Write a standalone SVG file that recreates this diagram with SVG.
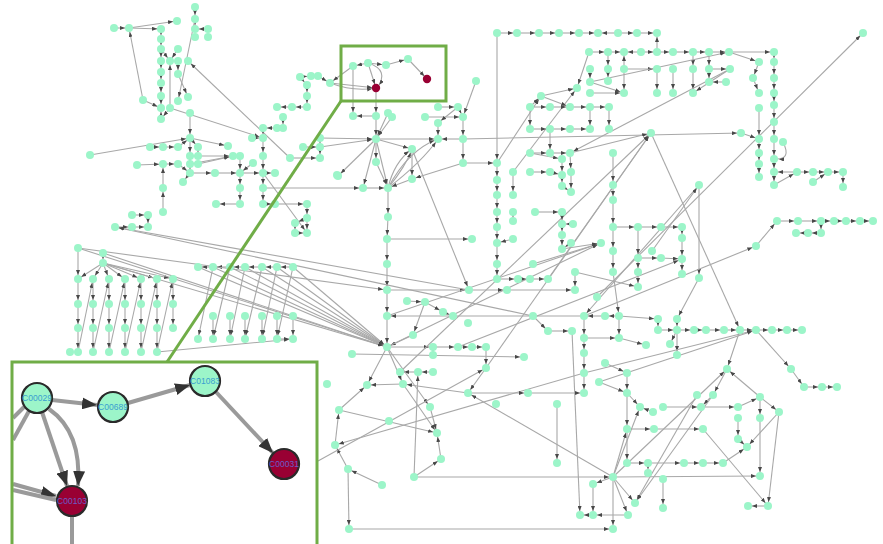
<svg xmlns="http://www.w3.org/2000/svg" width="883" height="544" viewBox="0 0 883 544">
<style>
.e path{stroke:#a8a8a8;stroke-width:1.1;fill:none;marker-end:url(#a)}
.nd circle{fill:#9cf5c9}
#nodes circle{r:4px}
.rd circle{fill:#990033}
.ie path{stroke:#9a9a9a;stroke-width:4;fill:none}
.ie .ar{marker-end:url(#b)}
.big circle{stroke:#2a2a2a;stroke-width:2.2}
.lbl{font-family:"Liberation Sans",Arial,sans-serif;font-size:8.5px;text-anchor:middle;dominant-baseline:central}
.frame{fill:none;stroke:#70ad47;stroke-width:3}
</style>
<defs>
<marker id="a" viewBox="0 0 10 8" refX="18" refY="4" markerWidth="5" markerHeight="4" orient="auto" markerUnits="userSpaceOnUse"><path d="M0 0L10 4L0 8z" fill="#484848"/></marker>
<marker id="b" viewBox="0 0 10 8" refX="10" refY="4" markerWidth="15" markerHeight="12" orient="auto" markerUnits="userSpaceOnUse"><path d="M0 0L10 4L0 8z" fill="#333"/></marker>
</defs>
<rect width="883" height="544" fill="#fff"/>
<g id="connectors" class="e">
<path d="M114 28L129 28"/><path d="M129 28L161 29"/><path d="M129 28L177 21"/><path d="M143 100L129 28"/><path d="M143 100L161 108"/>
<path d="M161 29L161 39"/><path d="M161 39L161 49"/><path d="M161 49L161 61"/><path d="M161 61L161 72"/><path d="M161 72L161 83"/><path d="M161 83L161 96"/><path d="M161 96L161 108"/><path d="M161 119L161 108"/><path d="M170 108L161 119"/>
<path d="M170 108L170 61"/><path d="M178 49L170 61"/><path d="M161 49L170 61"/><path d="M178 61L178 74"/><path d="M195 7L195 19"/><path d="M195 19L195 29"/><path d="M208 29L195 29"/><path d="M195 19L178 101"/><path d="M178 74L188 97"/><path d="M290 158L188 61"/><path d="M170 108L263 138"/><path d="M190 113L190 138"/>
<path d="M90 155L190 138"/><path d="M150 147L163 147"/><path d="M163 147L178 147"/><path d="M178 147L190 138"/><path d="M190 138L198 147"/><path d="M190 138L228 146"/><path d="M190 138L190 156"/><path d="M190 156L190 164"/><path d="M190 164L190 173"/><path d="M198 147L198 156"/>
<path d="M190 156L233 156"/><path d="M190 164L233 156"/><path d="M198 164L233 156"/><path d="M137 165L163 164"/><path d="M163 164L178 164"/><path d="M178 164L190 173"/><path d="M190 173L183 182"/><path d="M190 173L215 173"/><path d="M215 173L240 173"/><path d="M240 173L263 173"/><path d="M263 173L275 173"/>
<path d="M240 156L240 173"/><path d="M253 163L240 173"/><path d="M252 138L263 138"/><path d="M263 128L263 138"/><path d="M263 138L263 156"/><path d="M263 156L263 173"/><path d="M277 128L263 128"/><path d="M283 117L283 128"/><path d="M292 107L277 107"/><path d="M307 107L292 107"/>
<path d="M263 173L263 188"/><path d="M263 188L263 204"/><path d="M263 204L275 204"/><path d="M275 204L307 204"/><path d="M240 173L240 188"/><path d="M240 188L240 204"/><path d="M240 204L216 204"/><path d="M263 173L307 233"/><path d="M263 188L363 188"/>
<path d="M290 158L320 158"/><path d="M303 147L320 147"/><path d="M320 138L320 147"/><path d="M320 147L320 158"/><path d="M320 138L376 139"/><path d="M320 147L376 139"/><path d="M163 212L163 188"/><path d="M163 188L163 164"/>
<path d="M132 215L148 215"/><path d="M148 215L148 227"/><path d="M115 227L132 227"/><path d="M132 227L148 227"/><path d="M307 204L307 218"/><path d="M307 218L307 233"/><path d="M307 218L295 223"/><path d="M295 223L295 233"/><path d="M295 233L307 233"/>
<path d="M300 77L311 76"/><path d="M311 76L318 76"/><path d="M318 76L330 83"/><path d="M300 77L307 85"/><path d="M307 85L307 96"/><path d="M307 96L307 107"/><path d="M330 83L376 88"/><path d="M330 83Q354 92 376 88"/>
<path d="M368 63L353 66"/><path d="M353 66L330 83"/><path d="M368 63L376 88"/><path d="M368 63Q390 70 377 88"/><path d="M368 63L386 65"/><path d="M386 65L408 59"/><path d="M408 59L427 79"/><path d="M376 88L376 116"/><path d="M353 66L353 116"/><path d="M376 116L353 116"/>
<path d="M388 113L376 139"/><path d="M392 117L376 139"/><path d="M376 116L376 139"/><path d="M376 139L438 139"/><path d="M463 139L438 139"/><path d="M376 139L376 162"/><path d="M376 139L338 176"/><path d="M376 139L363 188"/><path d="M376 139L388 188"/><path d="M376 139L412 149"/>
<path d="M388 188Q394 162 412 149"/><path d="M388 188Q406 166 412 149"/><path d="M388 188Q408 150 438 139"/><path d="M388 188Q422 162 438 139"/>
<path d="M412 149L412 179"/><path d="M412 179L388 188"/><path d="M463 163L412 179"/><path d="M363 188L388 188"/><path d="M376 162L388 188"/>
<path d="M438 107L458 107"/><path d="M458 107L463 117"/><path d="M425 117L463 117"/><path d="M476 81L463 117"/><path d="M463 117L463 139"/><path d="M463 139L463 163"/><path d="M458 107L438 123"/><path d="M438 123L438 139"/><path d="M412 149L469 290"/><path d="M388 188L388 217"/><path d="M463 139L741 133"/><path d="M463 163L497 163"/>
<path d="M388 217L387 239"/><path d="M387 239L387 264"/><path d="M387 264L387 290"/><path d="M387 290L387 316"/><path d="M387 316L387 347"/><path d="M387 239L472 239"/>
<path d="M387 290L469 290"/><path d="M469 290L507 290"/><path d="M507 290L575 290"/><path d="M575 272L575 290"/><path d="M407 301L425 302"/><path d="M425 302L443 312"/><path d="M443 312L453 316"/><path d="M425 302L413 335"/><path d="M413 335L387 347"/>
<path d="M584 316L387 316"/><path d="M533 316L548 331"/><path d="M548 331L572 331"/><path d="M387 347L433 347"/><path d="M433 347L458 347"/><path d="M458 347L472 347"/><path d="M472 347L486 347"/><path d="M486 347L486 368"/><path d="M433 347L433 355"/><path d="M352 354L524 357"/>
<path d="M433 372L418 372"/><path d="M418 372L400 372"/><path d="M387 316L601 243"/><path d="M387 347L367 385"/><path d="M387 347L403 384"/><path d="M400 372L651 133"/><path d="M486 368L651 133"/><path d="M387 347L430 407"/><path d="M387 347L601 243"/>
<path d="M497 33L497 163"/><path d="M497 33L517 33"/><path d="M517 33L539 33"/><path d="M539 33L559 33"/><path d="M559 33L579 33"/><path d="M579 33L598 33"/><path d="M618 33L598 33"/><path d="M618 33L637 33"/><path d="M637 33L657 33"/><path d="M657 52L657 33"/>
<path d="M589 52L608 52"/><path d="M608 52L624 52"/><path d="M641 52L624 52"/><path d="M641 52L657 52"/><path d="M657 52L673 52"/><path d="M673 52L693 52"/><path d="M693 52L709 52"/><path d="M709 52L729 52"/><path d="M729 52L774 52"/><path d="M729 52L759 62"/><path d="M759 62L753 78"/><path d="M753 78L759 93"/>
<path d="M608 52L608 69"/><path d="M608 69L608 81"/><path d="M624 69L624 52"/><path d="M624 69L624 93"/><path d="M657 69L657 93"/><path d="M673 69L673 93"/><path d="M693 52L693 69"/><path d="M693 69L693 93"/><path d="M709 52L709 69"/><path d="M709 69L709 82"/><path d="M590 69L590 82"/>
<path d="M590 82L624 93"/><path d="M590 93L624 93"/><path d="M624 69L657 69"/><path d="M709 69L730 69"/><path d="M726 82L709 82"/><path d="M730 69L693 93"/><path d="M590 82L729 52"/><path d="M730 69L570 153"/>
<path d="M589 52L577 88"/><path d="M541 96L577 88"/><path d="M513 172L577 88"/><path d="M497 163L541 96"/><path d="M541 96L570 107"/><path d="M530 107L541 96"/>
<path d="M530 107L550 107"/><path d="M550 107L570 107"/><path d="M570 107L590 107"/><path d="M590 107L609 107"/><path d="M590 107L590 129"/><path d="M609 107L609 129"/><path d="M530 107L530 129"/><path d="M530 129L550 129"/><path d="M550 129L570 129"/><path d="M570 129L590 129"/><path d="M550 129L550 153"/>
<path d="M530 153L550 153"/><path d="M550 153L570 153"/><path d="M530 153L562 159"/><path d="M562 159L562 175"/><path d="M530 172L550 172"/><path d="M550 172L562 175"/><path d="M570 153L571 172"/><path d="M571 172L571 192"/><path d="M562 175L562 186"/><path d="M562 186L571 192"/><path d="M513 172L513 195"/><path d="M613 153L613 185"/><path d="M613 185L613 200"/>
<path d="M497 163L497 180"/><path d="M497 180L497 195"/><path d="M497 195L497 212"/><path d="M497 212L497 227"/><path d="M497 227L497 243"/><path d="M497 243L497 264"/><path d="M497 264L497 279"/><path d="M513 212L513 221"/><path d="M513 239L497 243"/>
<path d="M497 279L518 279"/><path d="M518 279L530 279"/><path d="M530 279L548 279"/><path d="M535 212L562 212"/><path d="M562 212L562 224"/><path d="M562 224L562 235"/><path d="M562 235L562 249"/><path d="M573 224L562 224"/><path d="M571 243L562 249"/>
<path d="M533 264L601 243"/><path d="M562 249L601 243"/><path d="M548 279L651 133"/><path d="M570 153L651 133"/><path d="M651 133L740 330"/><path d="M699 185L584 316"/><path d="M699 185L699 278"/><path d="M597 297L863 33"/>
<path d="M774 52L774 62"/><path d="M774 62L774 78"/><path d="M774 78L774 93"/><path d="M774 93L774 105"/><path d="M774 105L774 122"/><path d="M774 122L774 139"/><path d="M774 139L774 159"/><path d="M774 159L774 172"/><path d="M774 172L774 185"/><path d="M783 142Q792 160 775 159"/>
<path d="M797 172L774 172"/><path d="M797 172L813 172"/><path d="M813 172L828 172"/><path d="M828 172L843 172"/><path d="M813 182L828 172"/><path d="M843 172L843 187"/><path d="M774 185L797 172"/>
<path d="M759 108L759 139"/><path d="M741 133L759 139"/><path d="M759 139L759 153"/><path d="M759 153L759 164"/><path d="M759 164L759 177"/>
<path d="M777 221L798 221"/><path d="M798 221L821 221"/><path d="M821 221L834 221"/><path d="M834 221L846 221"/><path d="M846 221L860 221"/><path d="M860 221L873 221"/><path d="M821 221L821 233"/><path d="M821 233L808 233"/><path d="M808 233L796 233"/><path d="M756 246L777 221"/><path d="M584 316L756 246"/>
<path d="M613 200L613 227"/><path d="M613 227L613 251"/><path d="M613 251L613 272"/><path d="M613 227L638 227"/><path d="M638 227L661 227"/><path d="M661 227L682 227"/><path d="M682 227L682 238"/><path d="M682 238L682 259"/><path d="M682 259L682 274"/>
<path d="M638 227L638 258"/><path d="M638 258L638 272"/><path d="M638 272L638 287"/><path d="M638 258L661 258"/><path d="M661 258L682 259"/><path d="M652 251L699 185"/><path d="M699 278L677 319"/><path d="M458 347L682 259"/><path d="M575 272L638 287"/><path d="M613 272L619 316"/>
<path d="M619 316L605 316"/><path d="M605 316L584 316"/><path d="M619 316L658 319"/><path d="M619 316L619 338"/><path d="M658 319L658 330"/><path d="M677 319L677 330"/>
<path d="M658 330L677 330"/><path d="M677 330L694 330"/><path d="M694 330L706 330"/><path d="M706 330L724 330"/><path d="M724 330L740 330"/><path d="M740 330L756 330"/><path d="M756 330L772 330"/><path d="M772 330L787 330"/><path d="M787 330L802 330"/>
<path d="M677 330L670 344"/><path d="M677 330L677 355"/><path d="M584 316L584 338"/><path d="M584 338L584 353"/><path d="M584 353L584 373"/><path d="M584 373L584 393"/><path d="M584 338L619 338"/><path d="M619 338L646 345"/>
<path d="M605 363L627 373"/><path d="M599 382L627 393"/><path d="M627 373L627 393"/><path d="M627 393L627 429"/><path d="M627 429L627 463"/><path d="M740 330L727 369"/><path d="M756 330L791 369"/><path d="M791 369L804 387"/><path d="M804 387L822 387"/><path d="M822 387L837 387"/><path d="M727 369L713 395"/><path d="M760 397L727 369"/><path d="M584 373L756 330"/><path d="M599 382L756 330"/>
<path d="M627 393L640 407"/><path d="M653 412L640 407"/><path d="M663 407L701 407"/><path d="M701 407L738 407"/><path d="M713 395L701 407"/><path d="M738 407L760 397"/><path d="M760 397L779 412"/><path d="M760 397L760 418"/><path d="M760 418L760 476"/><path d="M779 412L768 506"/><path d="M768 506L748 506"/>
<path d="M738 418L738 439"/><path d="M738 439L747 447"/><path d="M779 412L747 447"/><path d="M723 463L747 447"/><path d="M627 429L654 429"/><path d="M654 429L703 429"/><path d="M703 429L768 506"/>
<path d="M627 463L648 463"/><path d="M648 463L684 463"/><path d="M684 463L703 463"/><path d="M703 463L723 463"/><path d="M648 463L648 473"/><path d="M697 395L635 503"/><path d="M713 395L635 503"/>
<path d="M613 477L627 429"/><path d="M613 477L640 407"/><path d="M613 477L727 369"/><path d="M613 477L760 476"/><path d="M613 477L628 515"/><path d="M613 477L635 503"/><path d="M613 477L593 484"/><path d="M613 477L613 529"/><path d="M613 477L468 393"/>
<path d="M593 484L593 515"/><path d="M628 515L593 515"/><path d="M593 515L580 515"/><path d="M663 479L663 508"/><path d="M414 477L613 477"/><path d="M349 529L613 529"/><path d="M572 331L580 515"/>
<path d="M468 393L403 384"/><path d="M403 384L367 385"/><path d="M339 410L367 385"/><path d="M335 445L339 410"/><path d="M348 469L335 445"/><path d="M382 485L348 469"/><path d="M348 469L349 529"/><path d="M339 410L437 433"/><path d="M403 384L437 433"/><path d="M430 407L437 433"/><path d="M441 459L437 433"/><path d="M414 477L441 459"/><path d="M414 477L418 372"/><path d="M584 373L335 445"/>
<path d="M468 393L528 393"/><path d="M528 393L584 393"/><path d="M486 368L468 393"/><path d="M557 404L557 463"/><path d="M318 461L486 368"/>
<path d="M78 248L78 279"/><path d="M103 253L103 263"/>
<path d="M103 263L78 279"/><path d="M103 263L93 279"/><path d="M103 263L109 279"/><path d="M103 263L125 279"/><path d="M103 263L141 279"/><path d="M103 263L157 279"/><path d="M103 263L173 279"/>
<path d="M78 279L78 304"/><path d="M78 304L78 328"/><path d="M78 328L78 352"/>
<path d="M93 279L93 304"/><path d="M93 304L93 328"/><path d="M93 328L93 352"/>
<path d="M109 279L109 304"/><path d="M109 304L109 328"/><path d="M109 328L109 352"/>
<path d="M125 279L125 304"/><path d="M125 304L125 328"/><path d="M125 328L125 352"/>
<path d="M141 279L141 304"/><path d="M141 304L141 328"/><path d="M141 328L141 352"/>
<path d="M157 279L157 304"/><path d="M157 304L157 328"/><path d="M157 328L157 352"/>
<path d="M173 279L173 304"/><path d="M173 304L173 328"/>
<path d="M78 352L93 279"/><path d="M93 352L109 279"/><path d="M109 352L125 279"/><path d="M125 352L141 279"/><path d="M141 352L157 279"/><path d="M157 352L173 279"/>
<path d="M293 267L277 267"/><path d="M277 267L262 267"/><path d="M262 267L245 267"/><path d="M245 267L230 267"/><path d="M230 267L213 267"/><path d="M213 267L198 267"/>
<path d="M213 267L198 339"/><path d="M230 267L213 339"/><path d="M245 267L230 339"/><path d="M262 267L245 339"/><path d="M277 267L262 339"/><path d="M293 267L277 339"/>
<path d="M213 316L213 339"/><path d="M230 316L230 339"/><path d="M245 316L245 339"/><path d="M262 316L262 339"/><path d="M277 316L277 339"/><path d="M293 316L293 339"/><path d="M277 339L293 339"/><path d="M157 352L293 339"/>
<path d="M78 248L387 347"/><path d="M103 253L387 347"/><path d="M103 263L387 347"/><path d="M198 267L387 347"/><path d="M213 267L387 347"/><path d="M230 267L387 347"/><path d="M245 267L387 347"/><path d="M262 267L387 347"/><path d="M277 267L387 347"/><path d="M293 267L387 347"/>
<path d="M78 248L387 290"/><path d="M469 290L115 227"/><path d="M533 316L115 227"/>
</g>
<g id="nodes" class="nd">
<g id="n114-28"><circle cx="114" cy="28" r="4"/></g><g id="n129-28"><circle cx="129" cy="28" r="4"/></g><g id="n161-29"><circle cx="161" cy="29" r="4"/></g><g id="n177-21"><circle cx="177" cy="21" r="4"/></g><g id="n195-7"><circle cx="195" cy="7" r="4"/></g><g id="n195-19"><circle cx="195" cy="19" r="4"/></g><g id="n195-29"><circle cx="195" cy="29" r="4"/></g><g id="n208-29"><circle cx="208" cy="29" r="4"/></g><g id="n195-37"><circle cx="195" cy="37" r="4"/></g><g id="n208-37"><circle cx="208" cy="37" r="4"/></g>
<g id="n161-39"><circle cx="161" cy="39" r="4"/></g><g id="n161-49"><circle cx="161" cy="49" r="4"/></g><g id="n178-49"><circle cx="178" cy="49" r="4"/></g><g id="n161-61"><circle cx="161" cy="61" r="4"/></g><g id="n170-61"><circle cx="170" cy="61" r="4"/></g><g id="n178-61"><circle cx="178" cy="61" r="4"/></g><g id="n188-61"><circle cx="188" cy="61" r="4"/></g><g id="n161-72"><circle cx="161" cy="72" r="4"/></g><g id="n178-74"><circle cx="178" cy="74" r="4"/></g><g id="n161-83"><circle cx="161" cy="83" r="4"/></g>
<g id="n161-96"><circle cx="161" cy="96" r="4"/></g><g id="n143-100"><circle cx="143" cy="100" r="4"/></g><g id="n178-101"><circle cx="178" cy="101" r="4"/></g><g id="n188-97"><circle cx="188" cy="97" r="4"/></g><g id="n161-108"><circle cx="161" cy="108" r="4"/></g><g id="n170-108"><circle cx="170" cy="108" r="4"/></g><g id="n161-119"><circle cx="161" cy="119" r="4"/></g><g id="n190-113"><circle cx="190" cy="113" r="4"/></g>
<g id="n190-138"><circle cx="190" cy="138" r="4"/></g><g id="n150-147"><circle cx="150" cy="147" r="4"/></g><g id="n163-147"><circle cx="163" cy="147" r="4"/></g><g id="n178-147"><circle cx="178" cy="147" r="4"/></g><g id="n198-147"><circle cx="198" cy="147" r="4"/></g><g id="n228-146"><circle cx="228" cy="146" r="4"/></g><g id="n190-156"><circle cx="190" cy="156" r="4"/></g><g id="n198-156"><circle cx="198" cy="156" r="4"/></g><g id="n233-156"><circle cx="233" cy="156" r="4"/></g><g id="n90-155"><circle cx="90" cy="155" r="4"/></g>
<g id="n137-165"><circle cx="137" cy="165" r="4"/></g><g id="n163-164"><circle cx="163" cy="164" r="4"/></g><g id="n178-164"><circle cx="178" cy="164" r="4"/></g><g id="n190-164"><circle cx="190" cy="164" r="4"/></g><g id="n198-164"><circle cx="198" cy="164" r="4"/></g><g id="n190-173"><circle cx="190" cy="173" r="4"/></g><g id="n183-182"><circle cx="183" cy="182" r="4"/></g><g id="n215-173"><circle cx="215" cy="173" r="4"/></g><g id="n240-173"><circle cx="240" cy="173" r="4"/></g><g id="n263-173"><circle cx="263" cy="173" r="4"/></g>
<g id="n275-173"><circle cx="275" cy="173" r="4"/></g><g id="n240-156"><circle cx="240" cy="156" r="4"/></g><g id="n253-163"><circle cx="253" cy="163" r="4"/></g><g id="n252-138"><circle cx="252" cy="138" r="4"/></g><g id="n263-138"><circle cx="263" cy="138" r="4"/></g><g id="n263-128"><circle cx="263" cy="128" r="4"/></g><g id="n277-128"><circle cx="277" cy="128" r="4"/></g><g id="n283-128"><circle cx="283" cy="128" r="4"/></g><g id="n283-117"><circle cx="283" cy="117" r="4"/></g><g id="n277-107"><circle cx="277" cy="107" r="4"/></g>
<g id="n292-107"><circle cx="292" cy="107" r="4"/></g><g id="n307-107"><circle cx="307" cy="107" r="4"/></g><g id="n263-156"><circle cx="263" cy="156" r="4"/></g><g id="n240-188"><circle cx="240" cy="188" r="4"/></g><g id="n263-188"><circle cx="263" cy="188" r="4"/></g><g id="n240-204"><circle cx="240" cy="204" r="4"/></g><g id="n216-204"><circle cx="216" cy="204" r="4"/></g><g id="n263-204"><circle cx="263" cy="204" r="4"/></g><g id="n275-204"><circle cx="275" cy="204" r="4"/></g><g id="n307-204"><circle cx="307" cy="204" r="4"/></g>
<g id="n290-158"><circle cx="290" cy="158" r="4"/></g><g id="n303-147"><circle cx="303" cy="147" r="4"/></g><g id="n320-138"><circle cx="320" cy="138" r="4"/></g><g id="n320-147"><circle cx="320" cy="147" r="4"/></g><g id="n320-158"><circle cx="320" cy="158" r="4"/></g><g id="n337-175"><circle cx="337" cy="175" r="4"/></g><g id="n163-188"><circle cx="163" cy="188" r="4"/></g><g id="n163-212"><circle cx="163" cy="212" r="4"/></g><g id="n148-215"><circle cx="148" cy="215" r="4"/></g><g id="n148-227"><circle cx="148" cy="227" r="4"/></g>
<g id="n132-215"><circle cx="132" cy="215" r="4"/></g><g id="n115-227"><circle cx="115" cy="227" r="4"/></g><g id="n132-227"><circle cx="132" cy="227" r="4"/></g><g id="n307-218"><circle cx="307" cy="218" r="4"/></g><g id="n295-223"><circle cx="295" cy="223" r="4"/></g><g id="n307-233"><circle cx="307" cy="233" r="4"/></g><g id="n295-233"><circle cx="295" cy="233" r="4"/></g>
<g id="n300-77"><circle cx="300" cy="77" r="4"/></g><g id="n311-76"><circle cx="311" cy="76" r="4"/></g><g id="n318-76"><circle cx="318" cy="76" r="4"/></g><g id="n307-85"><circle cx="307" cy="85" r="4"/></g><g id="n307-96"><circle cx="307" cy="96" r="4"/></g><g id="n330-83"><circle cx="330" cy="83" r="4"/></g><g id="n353-66"><circle cx="353" cy="66" r="4"/></g><g id="n368-63"><circle cx="368" cy="63" r="4"/></g><g id="n386-65"><circle cx="386" cy="65" r="4"/></g><g id="n408-59"><circle cx="408" cy="59" r="4"/></g>
<g id="n353-116"><circle cx="353" cy="116" r="4"/></g><g id="n376-116"><circle cx="376" cy="116" r="4"/></g><g id="n388-113"><circle cx="388" cy="113" r="4"/></g><g id="n392-117"><circle cx="392" cy="117" r="4"/></g><g id="n376-139"><circle cx="376" cy="139" r="4"/></g><g id="n376-162"><circle cx="376" cy="162" r="4"/></g><g id="n412-149"><circle cx="412" cy="149" r="4"/></g><g id="n412-179"><circle cx="412" cy="179" r="4"/></g><g id="n388-188"><circle cx="388" cy="188" r="4"/></g><g id="n363-188"><circle cx="363" cy="188" r="4"/></g>
<g id="n338-176"><circle cx="338" cy="176" r="4"/></g><g id="n438-107"><circle cx="438" cy="107" r="4"/></g><g id="n458-107"><circle cx="458" cy="107" r="4"/></g><g id="n463-117"><circle cx="463" cy="117" r="4"/></g><g id="n425-117"><circle cx="425" cy="117" r="4"/></g><g id="n438-123"><circle cx="438" cy="123" r="4"/></g><g id="n438-139"><circle cx="438" cy="139" r="4"/></g><g id="n463-139"><circle cx="463" cy="139" r="4"/></g><g id="n463-163"><circle cx="463" cy="163" r="4"/></g><g id="n476-81"><circle cx="476" cy="81" r="4"/></g>
<g id="n388-217"><circle cx="388" cy="217" r="4"/></g><g id="n387-239"><circle cx="387" cy="239" r="4"/></g><g id="n387-264"><circle cx="387" cy="264" r="4"/></g><g id="n387-290"><circle cx="387" cy="290" r="4"/></g><g id="n387-316"><circle cx="387" cy="316" r="4"/></g><g id="n387-347"><circle cx="387" cy="347" r="4"/></g><g id="n472-239"><circle cx="472" cy="239" r="4"/></g><g id="n469-290"><circle cx="469" cy="290" r="4"/></g><g id="n507-290"><circle cx="507" cy="290" r="4"/></g><g id="n575-290"><circle cx="575" cy="290" r="4"/></g>
<g id="n575-272"><circle cx="575" cy="272" r="4"/></g><g id="n407-301"><circle cx="407" cy="301" r="4"/></g><g id="n425-302"><circle cx="425" cy="302" r="4"/></g><g id="n443-312"><circle cx="443" cy="312" r="4"/></g><g id="n453-316"><circle cx="453" cy="316" r="4"/></g><g id="n468-323"><circle cx="468" cy="323" r="4"/></g><g id="n533-316"><circle cx="533" cy="316" r="4"/></g><g id="n548-331"><circle cx="548" cy="331" r="4"/></g><g id="n572-331"><circle cx="572" cy="331" r="4"/></g><g id="n413-335"><circle cx="413" cy="335" r="4"/></g>
<g id="n433-347"><circle cx="433" cy="347" r="4"/></g><g id="n458-347"><circle cx="458" cy="347" r="4"/></g><g id="n472-347"><circle cx="472" cy="347" r="4"/></g><g id="n486-347"><circle cx="486" cy="347" r="4"/></g><g id="n433-355"><circle cx="433" cy="355" r="4"/></g><g id="n352-354"><circle cx="352" cy="354" r="4"/></g><g id="n524-357"><circle cx="524" cy="357" r="4"/></g><g id="n486-368"><circle cx="486" cy="368" r="4"/></g><g id="n400-372"><circle cx="400" cy="372" r="4"/></g><g id="n418-372"><circle cx="418" cy="372" r="4"/></g><g id="n433-372"><circle cx="433" cy="372" r="4"/></g>
<g id="n497-33"><circle cx="497" cy="33" r="4"/></g><g id="n517-33"><circle cx="517" cy="33" r="4"/></g><g id="n539-33"><circle cx="539" cy="33" r="4"/></g><g id="n559-33"><circle cx="559" cy="33" r="4"/></g><g id="n579-33"><circle cx="579" cy="33" r="4"/></g><g id="n598-33"><circle cx="598" cy="33" r="4"/></g><g id="n618-33"><circle cx="618" cy="33" r="4"/></g><g id="n637-33"><circle cx="637" cy="33" r="4"/></g><g id="n657-33"><circle cx="657" cy="33" r="4"/></g>
<g id="n589-52"><circle cx="589" cy="52" r="4"/></g><g id="n608-52"><circle cx="608" cy="52" r="4"/></g><g id="n624-52"><circle cx="624" cy="52" r="4"/></g><g id="n641-52"><circle cx="641" cy="52" r="4"/></g><g id="n657-52"><circle cx="657" cy="52" r="4"/></g><g id="n673-52"><circle cx="673" cy="52" r="4"/></g><g id="n693-52"><circle cx="693" cy="52" r="4"/></g><g id="n709-52"><circle cx="709" cy="52" r="4"/></g><g id="n729-52"><circle cx="729" cy="52" r="4"/></g><g id="n774-52"><circle cx="774" cy="52" r="4"/></g>
<g id="n590-69"><circle cx="590" cy="69" r="4"/></g><g id="n608-69"><circle cx="608" cy="69" r="4"/></g><g id="n624-69"><circle cx="624" cy="69" r="4"/></g><g id="n657-69"><circle cx="657" cy="69" r="4"/></g><g id="n673-69"><circle cx="673" cy="69" r="4"/></g><g id="n693-69"><circle cx="693" cy="69" r="4"/></g><g id="n709-69"><circle cx="709" cy="69" r="4"/></g><g id="n730-69"><circle cx="730" cy="69" r="4"/></g>
<g id="n590-82"><circle cx="590" cy="82" r="4"/></g><g id="n608-81"><circle cx="608" cy="81" r="4"/></g><g id="n709-82"><circle cx="709" cy="82" r="4"/></g><g id="n726-82"><circle cx="726" cy="82" r="4"/></g><g id="n590-93"><circle cx="590" cy="93" r="4"/></g><g id="n624-93"><circle cx="624" cy="93" r="4"/></g><g id="n657-93"><circle cx="657" cy="93" r="4"/></g><g id="n673-93"><circle cx="673" cy="93" r="4"/></g><g id="n693-93"><circle cx="693" cy="93" r="4"/></g>
<g id="n577-88"><circle cx="577" cy="88" r="4"/></g><g id="n541-96"><circle cx="541" cy="96" r="4"/></g><g id="n530-107"><circle cx="530" cy="107" r="4"/></g><g id="n550-107"><circle cx="550" cy="107" r="4"/></g><g id="n570-107"><circle cx="570" cy="107" r="4"/></g><g id="n590-107"><circle cx="590" cy="107" r="4"/></g><g id="n609-107"><circle cx="609" cy="107" r="4"/></g>
<g id="n530-129"><circle cx="530" cy="129" r="4"/></g><g id="n550-129"><circle cx="550" cy="129" r="4"/></g><g id="n570-129"><circle cx="570" cy="129" r="4"/></g><g id="n590-129"><circle cx="590" cy="129" r="4"/></g><g id="n609-129"><circle cx="609" cy="129" r="4"/></g><g id="n651-133"><circle cx="651" cy="133" r="4"/></g>
<g id="n530-153"><circle cx="530" cy="153" r="4"/></g><g id="n550-153"><circle cx="550" cy="153" r="4"/></g><g id="n562-159"><circle cx="562" cy="159" r="4"/></g><g id="n570-153"><circle cx="570" cy="153" r="4"/></g><g id="n613-153"><circle cx="613" cy="153" r="4"/></g>
<g id="n497-163"><circle cx="497" cy="163" r="4"/></g><g id="n513-172"><circle cx="513" cy="172" r="4"/></g><g id="n530-172"><circle cx="530" cy="172" r="4"/></g><g id="n550-172"><circle cx="550" cy="172" r="4"/></g><g id="n562-175"><circle cx="562" cy="175" r="4"/></g><g id="n571-172"><circle cx="571" cy="172" r="4"/></g><g id="n562-186"><circle cx="562" cy="186" r="4"/></g><g id="n571-192"><circle cx="571" cy="192" r="4"/></g><g id="n613-185"><circle cx="613" cy="185" r="4"/></g><g id="n699-185"><circle cx="699" cy="185" r="4"/></g>
<g id="n497-180"><circle cx="497" cy="180" r="4"/></g><g id="n497-195"><circle cx="497" cy="195" r="4"/></g><g id="n513-195"><circle cx="513" cy="195" r="4"/></g><g id="n497-212"><circle cx="497" cy="212" r="4"/></g><g id="n513-212"><circle cx="513" cy="212" r="4"/></g><g id="n513-221"><circle cx="513" cy="221" r="4"/></g><g id="n497-227"><circle cx="497" cy="227" r="4"/></g><g id="n513-239"><circle cx="513" cy="239" r="4"/></g><g id="n497-243"><circle cx="497" cy="243" r="4"/></g><g id="n497-264"><circle cx="497" cy="264" r="4"/></g>
<g id="n497-279"><circle cx="497" cy="279" r="4"/></g><g id="n518-279"><circle cx="518" cy="279" r="4"/></g><g id="n530-279"><circle cx="530" cy="279" r="4"/></g><g id="n548-279"><circle cx="548" cy="279" r="4"/></g><g id="n535-212"><circle cx="535" cy="212" r="4"/></g><g id="n562-212"><circle cx="562" cy="212" r="4"/></g><g id="n562-224"><circle cx="562" cy="224" r="4"/></g><g id="n573-224"><circle cx="573" cy="224" r="4"/></g><g id="n562-235"><circle cx="562" cy="235" r="4"/></g><g id="n571-243"><circle cx="571" cy="243" r="4"/></g>
<g id="n562-249"><circle cx="562" cy="249" r="4"/></g><g id="n533-264"><circle cx="533" cy="264" r="4"/></g><g id="n601-243"><circle cx="601" cy="243" r="4"/></g>
<g id="n759-62"><circle cx="759" cy="62" r="4"/></g><g id="n753-78"><circle cx="753" cy="78" r="4"/></g><g id="n759-93"><circle cx="759" cy="93" r="4"/></g><g id="n774-62"><circle cx="774" cy="62" r="4"/></g><g id="n774-78"><circle cx="774" cy="78" r="4"/></g><g id="n774-93"><circle cx="774" cy="93" r="4"/></g><g id="n774-105"><circle cx="774" cy="105" r="4"/></g><g id="n774-122"><circle cx="774" cy="122" r="4"/></g><g id="n774-139"><circle cx="774" cy="139" r="4"/></g><g id="n774-159"><circle cx="774" cy="159" r="4"/></g>
<g id="n774-172"><circle cx="774" cy="172" r="4"/></g><g id="n774-185"><circle cx="774" cy="185" r="4"/></g><g id="n783-142"><circle cx="783" cy="142" r="4"/></g><g id="n759-108"><circle cx="759" cy="108" r="4"/></g><g id="n759-139"><circle cx="759" cy="139" r="4"/></g><g id="n759-153"><circle cx="759" cy="153" r="4"/></g><g id="n759-164"><circle cx="759" cy="164" r="4"/></g><g id="n759-177"><circle cx="759" cy="177" r="4"/></g><g id="n741-133"><circle cx="741" cy="133" r="4"/></g>
<g id="n797-172"><circle cx="797" cy="172" r="4"/></g><g id="n813-172"><circle cx="813" cy="172" r="4"/></g><g id="n828-172"><circle cx="828" cy="172" r="4"/></g><g id="n843-172"><circle cx="843" cy="172" r="4"/></g><g id="n813-182"><circle cx="813" cy="182" r="4"/></g><g id="n843-187"><circle cx="843" cy="187" r="4"/></g><g id="n863-33"><circle cx="863" cy="33" r="4"/></g>
<g id="n777-221"><circle cx="777" cy="221" r="4"/></g><g id="n798-221"><circle cx="798" cy="221" r="4"/></g><g id="n821-221"><circle cx="821" cy="221" r="4"/></g><g id="n834-221"><circle cx="834" cy="221" r="4"/></g><g id="n846-221"><circle cx="846" cy="221" r="4"/></g><g id="n860-221"><circle cx="860" cy="221" r="4"/></g><g id="n873-221"><circle cx="873" cy="221" r="4"/></g><g id="n796-233"><circle cx="796" cy="233" r="4"/></g><g id="n808-233"><circle cx="808" cy="233" r="4"/></g><g id="n821-233"><circle cx="821" cy="233" r="4"/></g><g id="n756-246"><circle cx="756" cy="246" r="4"/></g>
<g id="n613-200"><circle cx="613" cy="200" r="4"/></g><g id="n613-227"><circle cx="613" cy="227" r="4"/></g><g id="n638-227"><circle cx="638" cy="227" r="4"/></g><g id="n661-227"><circle cx="661" cy="227" r="4"/></g><g id="n682-227"><circle cx="682" cy="227" r="4"/></g><g id="n682-238"><circle cx="682" cy="238" r="4"/></g><g id="n682-259"><circle cx="682" cy="259" r="4"/></g><g id="n682-274"><circle cx="682" cy="274" r="4"/></g><g id="n613-251"><circle cx="613" cy="251" r="4"/></g><g id="n613-272"><circle cx="613" cy="272" r="4"/></g>
<g id="n652-251"><circle cx="652" cy="251" r="4"/></g><g id="n638-258"><circle cx="638" cy="258" r="4"/></g><g id="n661-258"><circle cx="661" cy="258" r="4"/></g><g id="n638-272"><circle cx="638" cy="272" r="4"/></g><g id="n638-287"><circle cx="638" cy="287" r="4"/></g><g id="n699-278"><circle cx="699" cy="278" r="4"/></g><g id="n597-297"><circle cx="597" cy="297" r="4"/></g><g id="n584-316"><circle cx="584" cy="316" r="4"/></g><g id="n605-316"><circle cx="605" cy="316" r="4"/></g><g id="n619-316"><circle cx="619" cy="316" r="4"/></g>
<g id="n658-319"><circle cx="658" cy="319" r="4"/></g><g id="n677-319"><circle cx="677" cy="319" r="4"/></g><g id="n658-330"><circle cx="658" cy="330" r="4"/></g><g id="n677-330"><circle cx="677" cy="330" r="4"/></g><g id="n694-330"><circle cx="694" cy="330" r="4"/></g><g id="n706-330"><circle cx="706" cy="330" r="4"/></g><g id="n724-330"><circle cx="724" cy="330" r="4"/></g><g id="n740-330"><circle cx="740" cy="330" r="4"/></g><g id="n756-330"><circle cx="756" cy="330" r="4"/></g><g id="n772-330"><circle cx="772" cy="330" r="4"/></g>
<g id="n787-330"><circle cx="787" cy="330" r="4"/></g><g id="n802-330"><circle cx="802" cy="330" r="4"/></g><g id="n670-344"><circle cx="670" cy="344" r="4"/></g><g id="n677-355"><circle cx="677" cy="355" r="4"/></g><g id="n646-345"><circle cx="646" cy="345" r="4"/></g><g id="n584-338"><circle cx="584" cy="338" r="4"/></g><g id="n619-338"><circle cx="619" cy="338" r="4"/></g><g id="n584-353"><circle cx="584" cy="353" r="4"/></g><g id="n605-363"><circle cx="605" cy="363" r="4"/></g><g id="n627-373"><circle cx="627" cy="373" r="4"/></g>
<g id="n584-373"><circle cx="584" cy="373" r="4"/></g><g id="n599-382"><circle cx="599" cy="382" r="4"/></g><g id="n627-393"><circle cx="627" cy="393" r="4"/></g><g id="n584-393"><circle cx="584" cy="393" r="4"/></g><g id="n727-369"><circle cx="727" cy="369" r="4"/></g><g id="n791-369"><circle cx="791" cy="369" r="4"/></g><g id="n804-387"><circle cx="804" cy="387" r="4"/></g><g id="n822-387"><circle cx="822" cy="387" r="4"/></g><g id="n837-387"><circle cx="837" cy="387" r="4"/></g><g id="n713-395"><circle cx="713" cy="395" r="4"/></g>
<g id="n697-395"><circle cx="697" cy="395" r="4"/></g><g id="n760-397"><circle cx="760" cy="397" r="4"/></g><g id="n779-412"><circle cx="779" cy="412" r="4"/></g><g id="n640-407"><circle cx="640" cy="407" r="4"/></g><g id="n653-412"><circle cx="653" cy="412" r="4"/></g><g id="n663-407"><circle cx="663" cy="407" r="4"/></g><g id="n701-407"><circle cx="701" cy="407" r="4"/></g><g id="n738-407"><circle cx="738" cy="407" r="4"/></g><g id="n760-418"><circle cx="760" cy="418" r="4"/></g><g id="n738-418"><circle cx="738" cy="418" r="4"/></g>
<g id="n738-439"><circle cx="738" cy="439" r="4"/></g><g id="n747-447"><circle cx="747" cy="447" r="4"/></g><g id="n627-429"><circle cx="627" cy="429" r="4"/></g><g id="n654-429"><circle cx="654" cy="429" r="4"/></g><g id="n703-429"><circle cx="703" cy="429" r="4"/></g><g id="n627-463"><circle cx="627" cy="463" r="4"/></g><g id="n648-463"><circle cx="648" cy="463" r="4"/></g><g id="n648-473"><circle cx="648" cy="473" r="4"/></g><g id="n684-463"><circle cx="684" cy="463" r="4"/></g><g id="n703-463"><circle cx="703" cy="463" r="4"/></g>
<g id="n723-463"><circle cx="723" cy="463" r="4"/></g><g id="n613-477"><circle cx="613" cy="477" r="4"/></g><g id="n760-476"><circle cx="760" cy="476" r="4"/></g><g id="n593-484"><circle cx="593" cy="484" r="4"/></g><g id="n663-479"><circle cx="663" cy="479" r="4"/></g><g id="n663-508"><circle cx="663" cy="508" r="4"/></g><g id="n635-503"><circle cx="635" cy="503" r="4"/></g><g id="n628-515"><circle cx="628" cy="515" r="4"/></g><g id="n593-515"><circle cx="593" cy="515" r="4"/></g><g id="n580-515"><circle cx="580" cy="515" r="4"/></g>
<g id="n613-529"><circle cx="613" cy="529" r="4"/></g><g id="n748-506"><circle cx="748" cy="506" r="4"/></g><g id="n768-506"><circle cx="768" cy="506" r="4"/></g>
<g id="n327-384"><circle cx="327" cy="384" r="4"/></g><g id="n367-385"><circle cx="367" cy="385" r="4"/></g><g id="n403-384"><circle cx="403" cy="384" r="4"/></g><g id="n468-393"><circle cx="468" cy="393" r="4"/></g><g id="n528-393"><circle cx="528" cy="393" r="4"/></g><g id="n496-404"><circle cx="496" cy="404" r="4"/></g><g id="n557-404"><circle cx="557" cy="404" r="4"/></g><g id="n557-463"><circle cx="557" cy="463" r="4"/></g><g id="n339-410"><circle cx="339" cy="410" r="4"/></g><g id="n335-445"><circle cx="335" cy="445" r="4"/></g>
<g id="n389-421"><circle cx="389" cy="421" r="4"/></g><g id="n430-407"><circle cx="430" cy="407" r="4"/></g><g id="n437-433"><circle cx="437" cy="433" r="4"/></g><g id="n441-459"><circle cx="441" cy="459" r="4"/></g><g id="n414-477"><circle cx="414" cy="477" r="4"/></g><g id="n348-469"><circle cx="348" cy="469" r="4"/></g><g id="n382-485"><circle cx="382" cy="485" r="4"/></g><g id="n349-529"><circle cx="349" cy="529" r="4"/></g>
<g id="n78-248"><circle cx="78" cy="248" r="4"/></g><g id="n103-253"><circle cx="103" cy="253" r="4"/></g><g id="n103-263"><circle cx="103" cy="263" r="4"/></g>
<g id="n78-279"><circle cx="78" cy="279" r="4"/></g><g id="n93-279"><circle cx="93" cy="279" r="4"/></g><g id="n109-279"><circle cx="109" cy="279" r="4"/></g><g id="n125-279"><circle cx="125" cy="279" r="4"/></g><g id="n141-279"><circle cx="141" cy="279" r="4"/></g><g id="n157-279"><circle cx="157" cy="279" r="4"/></g><g id="n173-279"><circle cx="173" cy="279" r="4"/></g>
<g id="n78-304"><circle cx="78" cy="304" r="4"/></g><g id="n93-304"><circle cx="93" cy="304" r="4"/></g><g id="n109-304"><circle cx="109" cy="304" r="4"/></g><g id="n125-304"><circle cx="125" cy="304" r="4"/></g><g id="n141-304"><circle cx="141" cy="304" r="4"/></g><g id="n157-304"><circle cx="157" cy="304" r="4"/></g><g id="n173-304"><circle cx="173" cy="304" r="4"/></g>
<g id="n78-328"><circle cx="78" cy="328" r="4"/></g><g id="n93-328"><circle cx="93" cy="328" r="4"/></g><g id="n109-328"><circle cx="109" cy="328" r="4"/></g><g id="n125-328"><circle cx="125" cy="328" r="4"/></g><g id="n141-328"><circle cx="141" cy="328" r="4"/></g><g id="n157-328"><circle cx="157" cy="328" r="4"/></g><g id="n173-328"><circle cx="173" cy="328" r="4"/></g>
<g id="n70-352"><circle cx="70" cy="352" r="4"/></g><g id="n78-352"><circle cx="78" cy="352" r="4"/></g><g id="n93-352"><circle cx="93" cy="352" r="4"/></g><g id="n109-352"><circle cx="109" cy="352" r="4"/></g><g id="n125-352"><circle cx="125" cy="352" r="4"/></g><g id="n141-352"><circle cx="141" cy="352" r="4"/></g><g id="n157-352"><circle cx="157" cy="352" r="4"/></g>
<g id="n198-267"><circle cx="198" cy="267" r="4"/></g><g id="n213-267"><circle cx="213" cy="267" r="4"/></g><g id="n230-267"><circle cx="230" cy="267" r="4"/></g><g id="n245-267"><circle cx="245" cy="267" r="4"/></g><g id="n262-267"><circle cx="262" cy="267" r="4"/></g><g id="n277-267"><circle cx="277" cy="267" r="4"/></g><g id="n293-267"><circle cx="293" cy="267" r="4"/></g>
<g id="n213-316"><circle cx="213" cy="316" r="4"/></g><g id="n230-316"><circle cx="230" cy="316" r="4"/></g><g id="n245-316"><circle cx="245" cy="316" r="4"/></g><g id="n262-316"><circle cx="262" cy="316" r="4"/></g><g id="n277-316"><circle cx="277" cy="316" r="4"/></g><g id="n293-316"><circle cx="293" cy="316" r="4"/></g>
<g id="n198-339"><circle cx="198" cy="339" r="4"/></g><g id="n213-339"><circle cx="213" cy="339" r="4"/></g><g id="n230-339"><circle cx="230" cy="339" r="4"/></g><g id="n245-339"><circle cx="245" cy="339" r="4"/></g><g id="n262-339"><circle cx="262" cy="339" r="4"/></g><g id="n277-339"><circle cx="277" cy="339" r="4"/></g><g id="n293-339"><circle cx="293" cy="339" r="4"/></g>
</g>
<g id="n376-88" class="rd"><circle cx="376" cy="88" r="4.2"/></g>
<g id="n427-79" class="rd"><circle cx="427" cy="79" r="4.2"/></g>
<rect id="highlight" class="frame" x="341" y="46" width="105" height="55"/>
<g id="inset">
<rect x="12" y="362" width="305" height="190" fill="#fff"/>
<g id="inset-connectors" class="ie">
<path d="M24 407L13 418"/><path d="M29 411L13 440"/>
<path d="M13 484L56 496" class="ar"/><path d="M13 490L56 500"/>
<path d="M72 516L72 548"/>
<path d="M52 400L97 405" class="ar"/>
<path d="M128 403L190 385" class="ar"/>
<path d="M216 392L273 453" class="ar"/>
<path d="M42 412L67 486" class="ar"/>
<path d="M49 409Q82 432 78 486" class="ar"/>
</g>
<g id="C00029" class="nd big"><circle cx="37" cy="398" r="15"/><text class="lbl" x="37" y="398" fill="#3a9fd0">C00029</text></g>
<g id="C00689" class="nd big"><circle cx="113" cy="407" r="15"/><text class="lbl" x="113" y="407" fill="#3a9fd0">C00689</text></g>
<g id="C01083" class="nd big"><circle cx="205" cy="381" r="15"/><text class="lbl" x="205" y="381" fill="#3a9fd0">C01083</text></g>
<g id="C00031" class="rd big"><circle cx="284" cy="464" r="15"/><text class="lbl" x="284" y="464" fill="#6a5cc8">C00031</text></g>
<g id="C00103" class="rd big"><circle cx="72" cy="501" r="15"/><text class="lbl" x="72" y="501" fill="#6a5cc8">C00103</text></g>
<rect class="frame" x="12" y="362" width="305" height="190"/>
</g>
<path id="zoom-line" d="M167 362L341 101" stroke="#70ad47" stroke-width="3" fill="none"/>
</svg>
